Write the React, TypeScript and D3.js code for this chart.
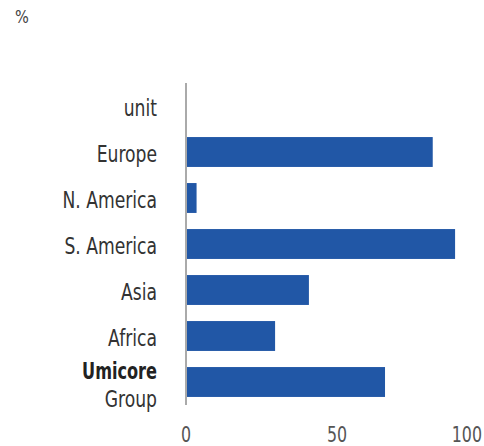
import React from "react";
import * as d3 from "d3";

const categories = ["unit", "Europe", "N. America", "S. America", "Asia", "Africa", "Umicore Group"];
const values: (number | null)[] = [null, 81.7, 3.5, 89.1, 40.7, 29.5, 65.9];
const ticks = [0, 50, 100];
const unitLabel = "%";

const W = 484;
const H = 446;
const FONT = "'Liberation Sans Narrow', 'DejaVu Sans Condensed', 'DejaVu Sans', sans-serif";

export default function App() {
  const x = d3.scaleLinear().domain([0, 100]).range([186, 488]);
  const y = d3
    .scaleBand<string>()
    .domain(categories)
    .range([83, 405])
    .paddingInner(0.35)
    .paddingOuter(0.175);

  const labelX = 157;
  const sx = 0.83;

  return (
    <svg
      width={W}
      height={H}
      style={{ position: "absolute", left: 0, top: 0, background: "#fff" }}
      fontFamily={FONT}
    >
      <text transform={`translate(15,23) scale(0.9,1)`} fontSize={18} fill="#444">
        {unitLabel}
      </text>
      {categories.map((c, i) => {
        const v = values[i];
        const by = y(c)!;
        return v == null ? null : (
          <rect
            key={c}
            x={x(0) + 1}
            y={by}
            width={x(v) - x(0) - 1}
            height={y.bandwidth()}
            fill="#2157a6"
          />
        );
      })}
      <line x1={x(0)} x2={x(0)} y1={83} y2={405} stroke="#aaa" strokeWidth={2} />
      {categories.map((c) => {
        const cy = y(c)! + y.bandwidth() / 2;
        if (c === "Umicore Group") {
          return (
            <g key={c}>
              <text
                transform={`translate(${labelX},379) scale(0.78,1)`}
                textAnchor="end"
                fontSize={23}
                fontWeight="bold"
                fill="#222"
              >
                Umicore
              </text>
              <text
                transform={`translate(${labelX},406.5) scale(${sx},1)`}
                textAnchor="end"
                fontSize={23}
                fill="#333"
              >
                Group
              </text>
            </g>
          );
        }
        return (
          <text
            key={c}
            transform={`translate(${labelX},${cy + 9.5}) scale(${sx},1)`}
            textAnchor="end"
            fontSize={23}
            fill="#333"
          >
            {c}
          </text>
        );
      })}
      {ticks.map((t) => {
        const tx = x(t);
        const overflow = tx + 14 > W - 2;
        return (
          <text
            key={t}
            transform={`translate(${overflow ? W - 2 : tx},441.5) scale(0.8,1)`}
            textAnchor={overflow ? "end" : "middle"}
            fontSize={22}
            fill="#555"
          >
            {t}
          </text>
        );
      })}
    </svg>
  );
}
